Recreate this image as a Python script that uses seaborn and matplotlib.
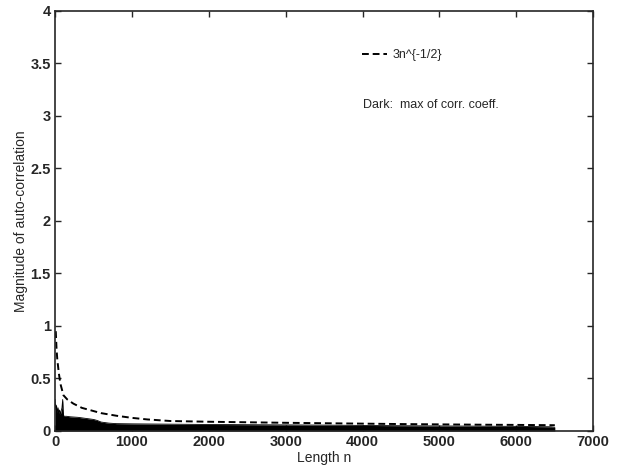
import numpy as np
import pandas as pd
import seaborn as sns
import matplotlib
matplotlib.use("Agg")
import matplotlib.pyplot as plt

# dashed reference curve
n_curve = [10, 20, 30, 50, 70, 110, 160, 240, 350, 450, 600, 800, 1000, 1200,
           1500, 2000, 2500, 3000, 3500, 4000, 4500, 5000, 5500, 6000, 6500]
y_curve = [0.95, 0.78, 0.68, 0.55, 0.45, 0.34, 0.30, 0.26, 0.22, 0.20, 0.17,
           0.145, 0.125, 0.11, 0.095, 0.088, 0.083, 0.078, 0.074, 0.070,
           0.066, 0.063, 0.060, 0.058, 0.055]

# upper edge of the dark region (max of corr. coeff.)
n_dark = [1, 5, 10, 15, 20, 30, 40, 50, 60, 70, 80, 90, 100, 105, 110, 120,
          150, 200, 300, 400, 500, 550, 600, 650, 700, 800, 1000, 1500, 2000,
          2500, 3000, 3500, 4000, 4500, 5000, 5500, 6000, 6450, 6500]
y_dark = [0.30, 0.22, 0.25, 0.20, 0.24, 0.18, 0.22, 0.17, 0.20, 0.16, 0.19,
          0.22, 0.30, 0.20, 0.15, 0.14, 0.14, 0.135, 0.13, 0.12, 0.11, 0.10,
          0.085, 0.08, 0.075, 0.07, 0.068, 0.065, 0.062, 0.06, 0.058, 0.056,
          0.053, 0.05, 0.048, 0.046, 0.044, 0.04, 0.035]

x_ticks = [0, 1000, 2000, 3000, 4000, 5000, 6000, 7000]
y_ticks = [0, 0.5, 1, 1.5, 2, 2.5, 3, 3.5, 4]
y_tick_labels = ["0", "0.5", "1", "1.5", "2", "2.5", "3", "3.5", "4"]

sns.set_style("ticks")
plt.rcParams["font.family"] = ["Liberation Sans", "DejaVu Sans"]

fig = plt.figure(figsize=(6.18, 4.70), dpi=100)
ax = fig.add_axes([0.089, 0.083, 0.871, 0.894])

dark = pd.DataFrame({"n": n_dark, "y": y_dark})
sns.lineplot(data=dark, x="n", y="y", color="black", lw=0.6, ax=ax)
ax.fill_between(dark["n"], dark["y"], 0, color="black", lw=0)

curve = pd.DataFrame({"n": n_curve, "y": y_curve})
sns.lineplot(data=curve, x="n", y="y", color="black", lw=1.4,
             linestyle=(0, (3.5, 2)), ax=ax, label="3n^{-1/2}")

ax.set_xlim(0, 7000)
ax.set_ylim(0, 4)
ax.set_xticks(x_ticks)
ax.set_xticklabels([str(t) for t in x_ticks], fontweight="bold", fontsize=10.5)
ax.set_yticks(y_ticks)
ax.set_yticklabels(y_tick_labels, fontweight="bold", fontsize=10.5)
ax.tick_params(direction="in", top=True, right=True, length=4, width=1, pad=3)
for s in ax.spines.values():
    s.set_linewidth(1.2)
    s.set_visible(True)

ax.set_xlabel("Length n", fontsize=10, labelpad=1)
ax.set_ylabel("Magnitude of auto-correlation", fontsize=10, labelpad=2)

leg = ax.legend(loc="upper left", bbox_to_anchor=(0.55, 0.935), frameon=False,
                fontsize=9, handlelength=2.0, handletextpad=0.4)
ax.text(0.572, 0.775, "Dark:  max of corr. coeff.", transform=ax.transAxes,
        fontsize=9, va="center", ha="left")

fig.savefig("out.png", dpi=100)
